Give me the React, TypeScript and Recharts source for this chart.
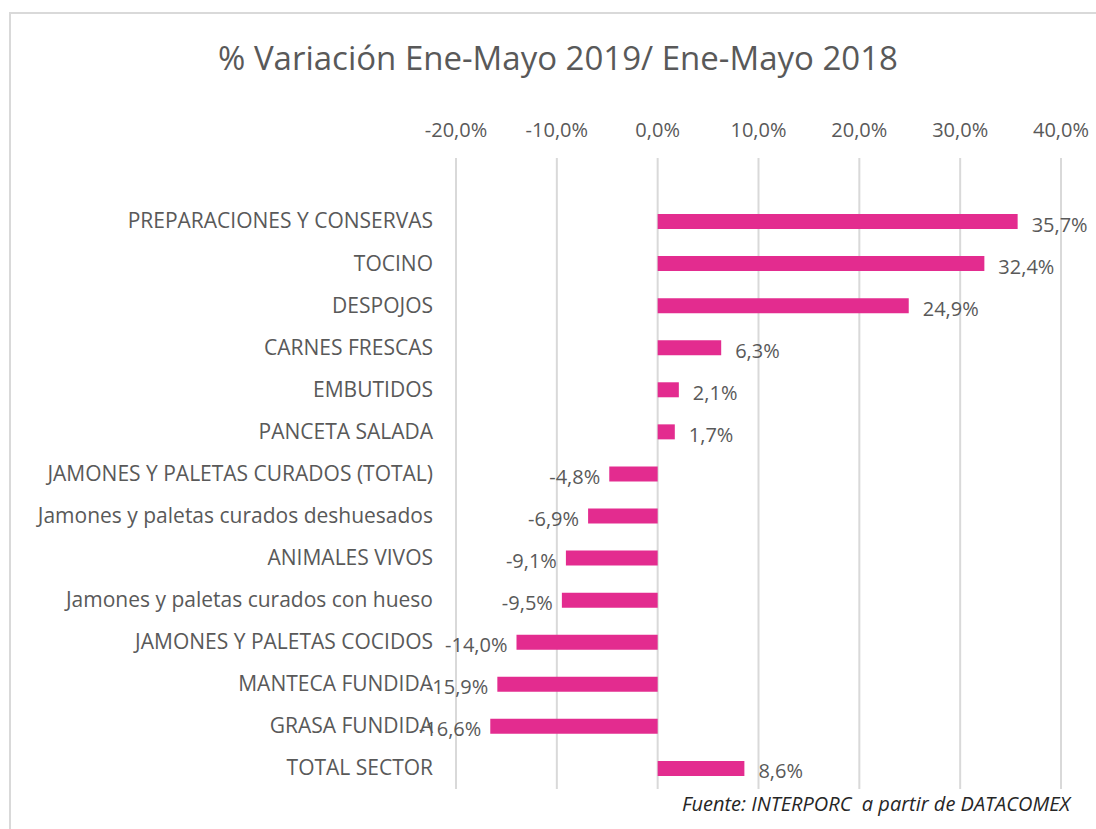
import React from "react";
import { BarChart, Bar, XAxis, YAxis, CartesianGrid, LabelList } from "recharts";

const categories = [
  "PREPARACIONES Y CONSERVAS",
  "TOCINO",
  "DESPOJOS",
  "CARNES FRESCAS",
  "EMBUTIDOS",
  "PANCETA SALADA",
  "JAMONES Y PALETAS CURADOS (TOTAL)",
  "Jamones y paletas curados deshuesados",
  "ANIMALES VIVOS",
  "Jamones y paletas curados con hueso",
  "JAMONES Y PALETAS COCIDOS",
  "MANTECA FUNDIDA",
  "GRASA FUNDIDA",
  "TOTAL SECTOR",
];
const variation = [35.7, 32.4, 24.9, 6.3, 2.1, 1.7, -4.8, -6.9, -9.1, -9.5, -14.0, -15.9, -16.6, 8.6];
const xTicks = [-20, -10, 0, 10, 20, 30, 40];

const title = "% Variación Ene-Mayo 2019/ Ene-Mayo 2018";
const source = "Fuente: INTERPORC  a partir de DATACOMEX";

const data = categories.map((c, i) => ({ name: c, value: variation[i] }));

const FONT = "'Open Sans', 'Noto Sans', sans-serif";
const GRAY = "#595959";
const PINK = "#E32C8F";

const fmt = (v: number) => v.toFixed(1).replace(".", ",") + "%";

const ValueLabel = (props: any) => {
  const { x, y, width, height, value } = props;
  const left = Math.min(x, x + width);
  const right = Math.max(x, x + width);
  const cy = y + height / 2 + 3;
  const neg = value < 0;
  return (
    <text
      x={neg ? left - 9 : right + 14}
      y={cy}
      dy="0.35em"
      textAnchor={neg ? "end" : "start"}
      fill={GRAY}
      fontSize={20}
      fontFamily={FONT}
    >
      {fmt(value)}
    </text>
  );
};

export default function App() {
  return (
    <div style={{ position: "absolute", left: 0, top: 0, width: 1096, height: 829, background: "#fff", overflow: "hidden" }}>
      <div
        style={{
          position: "absolute",
          left: 9,
          top: 12,
          width: 1200,
          height: 900,
          borderLeft: "2px solid #d9d9d9",
          borderTop: "2px solid #d9d9d9",
        }}
      />
      <div
        style={{
          position: "absolute",
          left: 558,
          top: 35,
          transform: "translateX(-50%)",
          whiteSpace: "nowrap",
          fontFamily: FONT,
          fontSize: 33,
          color: GRAY,
          lineHeight: "46px",
        }}
      >
        {title}
      </div>
      <div style={{ position: "absolute", left: 0, top: 0 }}>
        <BarChart
          width={1096}
          height={829}
          data={data}
          layout="vertical"
          margin={{ top: 118, right: 35, bottom: 40, left: 0 }}
          barSize={15}
        >
          <CartesianGrid horizontal={false} vertical={true} stroke="#d9d9d9" strokeWidth={2} />
          <XAxis
            type="number"
            orientation="top"
            domain={[-20, 40]}
            ticks={xTicks}
            tickFormatter={fmt}
            axisLine={false}
            tickLine={false}
            tickSize={0}
            tickMargin={21}
            height={40}
            interval={0}
            tick={{ fill: GRAY, fontSize: 20, fontFamily: FONT }}
          />
          <YAxis
            type="category"
            dataKey="name"
            width={456}
            axisLine={false}
            tickLine={false}
            tickSize={0}
            tickMargin={23}
            interval={0}
            padding={{ top: 42, bottom: 0 }}
            tick={{ fill: GRAY, fontSize: 21, fontFamily: FONT }}
          />
          <Bar dataKey="value" fill={PINK} isAnimationActive={false}>
            <LabelList dataKey="value" content={ValueLabel} />
          </Bar>
        </BarChart>
      </div>
      <div
        style={{
          position: "absolute",
          right: 26,
          top: 791,
          whiteSpace: "pre",
          fontFamily: FONT,
          fontStyle: "italic",
          fontSize: 20,
          color: "#262626",
          lineHeight: "26px",
        }}
      >
        {source}
      </div>
    </div>
  );
}
